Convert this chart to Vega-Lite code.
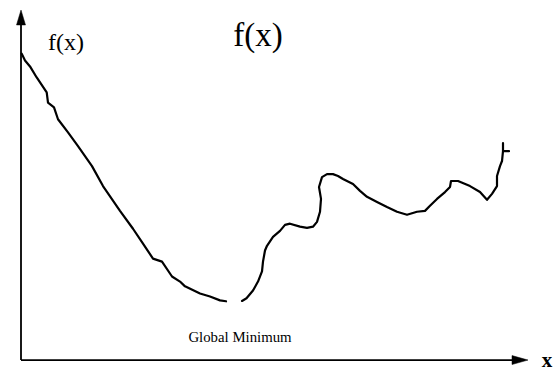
{
  "$schema": "https://vega.github.io/schema/vega-lite/v6.json",
  "width": 555,
  "height": 371,
  "padding": 0,
  "autosize": {"type": "fit", "contains": "padding"},
  "background": "white",
  "config": {"view": {"stroke": null}},
  "datasets": {
    "curve": [
      {"seg": "a", "ord": 1, "x": 0.14, "y": 102.7},
      {"seg": "a", "ord": 2, "x": 0.8, "y": 100.4},
      {"seg": "a", "ord": 3, "x": 1.8, "y": 98.4},
      {"seg": "a", "ord": 4, "x": 3.14, "y": 94.7},
      {"seg": "a", "ord": 5, "x": 5.14, "y": 89.7},
      {"seg": "a", "ord": 6, "x": 5.4, "y": 86.3},
      {"seg": "a", "ord": 7, "x": 6.6, "y": 84.7},
      {"seg": "a", "ord": 8, "x": 7.4, "y": 80.7},
      {"seg": "a", "ord": 9, "x": 9.4, "y": 76.3},
      {"seg": "a", "ord": 10, "x": 11.4, "y": 71.7},
      {"seg": "a", "ord": 11, "x": 14.2, "y": 65},
      {"seg": "a", "ord": 12, "x": 16.4, "y": 58.3},
      {"seg": "a", "ord": 13, "x": 19.8, "y": 50},
      {"seg": "a", "ord": 14, "x": 22.4, "y": 44},
      {"seg": "a", "ord": 15, "x": 24.4, "y": 39},
      {"seg": "a", "ord": 16, "x": 26.4, "y": 34},
      {"seg": "a", "ord": 17, "x": 28.2, "y": 33},
      {"seg": "a", "ord": 18, "x": 30.2, "y": 28},
      {"seg": "a", "ord": 19, "x": 31.8, "y": 26.3},
      {"seg": "a", "ord": 20, "x": 32.8, "y": 24.7},
      {"seg": "a", "ord": 21, "x": 35.8, "y": 22.3},
      {"seg": "a", "ord": 22, "x": 37.8, "y": 21.3},
      {"seg": "a", "ord": 23, "x": 39.8, "y": 20},
      {"seg": "a", "ord": 24, "x": 41, "y": 19.7},
      {"seg": "b", "ord": 1, "x": 44.2, "y": 19.8},
      {"seg": "b", "ord": 2, "x": 45.1, "y": 20.7},
      {"seg": "b", "ord": 3, "x": 46.4, "y": 23.3},
      {"seg": "b", "ord": 4, "x": 47.4, "y": 26.3},
      {"seg": "b", "ord": 5, "x": 48.2, "y": 29.7},
      {"seg": "b", "ord": 6, "x": 48.4, "y": 33},
      {"seg": "b", "ord": 7, "x": 48.8, "y": 36.7},
      {"seg": "b", "ord": 8, "x": 49.2, "y": 38.3},
      {"seg": "b", "ord": 9, "x": 50.4, "y": 41.3},
      {"seg": "b", "ord": 10, "x": 51.8, "y": 43.3},
      {"seg": "b", "ord": 11, "x": 52.8, "y": 45.3},
      {"seg": "b", "ord": 12, "x": 53.8, "y": 45.7},
      {"seg": "b", "ord": 13, "x": 55.8, "y": 44.7},
      {"seg": "b", "ord": 14, "x": 57.2, "y": 44.3},
      {"seg": "b", "ord": 15, "x": 58.4, "y": 44.7},
      {"seg": "b", "ord": 16, "x": 59.2, "y": 46.3},
      {"seg": "b", "ord": 17, "x": 59.8, "y": 49.7},
      {"seg": "b", "ord": 18, "x": 60, "y": 54},
      {"seg": "b", "ord": 19, "x": 59.6, "y": 58},
      {"seg": "b", "ord": 20, "x": 60.2, "y": 61.3},
      {"seg": "b", "ord": 21, "x": 61.2, "y": 62.3},
      {"seg": "b", "ord": 22, "x": 62.4, "y": 62.3},
      {"seg": "b", "ord": 23, "x": 63.4, "y": 61.7},
      {"seg": "b", "ord": 24, "x": 64.4, "y": 60.7},
      {"seg": "b", "ord": 25, "x": 66.4, "y": 59},
      {"seg": "b", "ord": 26, "x": 67.8, "y": 56.7},
      {"seg": "b", "ord": 27, "x": 69.2, "y": 54.7},
      {"seg": "b", "ord": 28, "x": 71.2, "y": 53},
      {"seg": "b", "ord": 29, "x": 73.2, "y": 51.3},
      {"seg": "b", "ord": 30, "x": 75.2, "y": 49.7},
      {"seg": "b", "ord": 31, "x": 77.2, "y": 48.7},
      {"seg": "b", "ord": 32, "x": 79.2, "y": 49.7},
      {"seg": "b", "ord": 33, "x": 80.8, "y": 50},
      {"seg": "b", "ord": 34, "x": 81.8, "y": 51.7},
      {"seg": "b", "ord": 35, "x": 83.2, "y": 54},
      {"seg": "b", "ord": 36, "x": 84.8, "y": 56.3},
      {"seg": "b", "ord": 37, "x": 85.8, "y": 58},
      {"seg": "b", "ord": 38, "x": 86, "y": 60},
      {"seg": "b", "ord": 39, "x": 87.4, "y": 60},
      {"seg": "b", "ord": 40, "x": 89.8, "y": 58.3},
      {"seg": "b", "ord": 41, "x": 91.8, "y": 56.3},
      {"seg": "b", "ord": 42, "x": 93.2, "y": 53.7},
      {"seg": "b", "ord": 43, "x": 94.2, "y": 55.7},
      {"seg": "b", "ord": 44, "x": 95.2, "y": 58.3},
      {"seg": "b", "ord": 45, "x": 95.2, "y": 61.7},
      {"seg": "b", "ord": 46, "x": 95.8, "y": 65},
      {"seg": "b", "ord": 47, "x": 96.2, "y": 66.7},
      {"seg": "b", "ord": 48, "x": 96.4, "y": 70},
      {"seg": "b", "ord": 49, "x": 96.4, "y": 72.7},
      {"seg": "b", "ord": 50, "x": 96.4, "y": 70},
      {"seg": "b", "ord": 51, "x": 97.6, "y": 70}
    ],
    "axes": [
      {"x": 0, "y": 0, "x2": 0, "y2": 113},
      {"x": 0, "y": 0, "x2": 98.8, "y2": 0}
    ],
    "yhead": [
      {"y": 112.3, "xl": -0.9, "xr": 0.9},
      {"y": 117.3, "xl": 0, "xr": 0}
    ],
    "xhead": [
      {"x": 98.2, "yl": -1.5, "yh": 1.5},
      {"x": 101.4, "yl": 0, "yh": 0}
    ],
    "title": [{"x": 47.4, "y": 108.7, "t": "f(x)"}],
    "ylab": [{"x": 9, "y": 106.3, "t": "f(x)"}],
    "xlab": [{"x": 105.2, "y": -0.3, "t": "x"}],
    "note": [{"x": 43.8, "y": 7.3, "t": "Global Minimum"}]
  },
  "layer": [
    {
      "data": {"name": "axes"},
      "mark": {"type": "rule", "color": "black", "strokeWidth": 1.8},
      "encoding": {
        "x": {"field": "x", "type": "quantitative", "scale": {"domain": [-4.2, 106.8], "nice": false, "zero": false}, "axis": null},
        "y": {"field": "y", "type": "quantitative", "scale": {"domain": [-3, 120.667], "nice": false, "zero": false}, "axis": null},
        "x2": {"field": "x2"},
        "y2": {"field": "y2"}
      }
    },
    {
      "data": {"name": "curve"},
      "mark": {"type": "line", "color": "black", "strokeWidth": 2.2, "strokeJoin": "round", "strokeCap": "round"},
      "encoding": {
        "x": {"field": "x", "type": "quantitative"},
        "y": {"field": "y", "type": "quantitative"},
        "detail": {"field": "seg"},
        "order": {"field": "ord", "type": "quantitative"}
      }
    },
    {
      "data": {"name": "yhead"},
      "mark": {"type": "area", "orient": "horizontal", "color": "black", "opacity": 1, "stroke": "black", "strokeWidth": 0.5},
      "encoding": {
        "y": {"field": "y", "type": "quantitative"},
        "x": {"field": "xl", "type": "quantitative"},
        "x2": {"field": "xr"}
      }
    },
    {
      "data": {"name": "xhead"},
      "mark": {"type": "area", "orient": "vertical", "color": "black", "opacity": 1, "stroke": "black", "strokeWidth": 0.5},
      "encoding": {
        "x": {"field": "x", "type": "quantitative"},
        "y": {"field": "yl", "type": "quantitative"},
        "y2": {"field": "yh"}
      }
    },
    {
      "data": {"name": "title"},
      "mark": {"type": "text", "font": "Liberation Serif", "fontSize": 33, "color": "black", "baseline": "middle", "align": "center"},
      "encoding": {
        "x": {"field": "x", "type": "quantitative"},
        "y": {"field": "y", "type": "quantitative"},
        "text": {"field": "t"}
      }
    },
    {
      "data": {"name": "ylab"},
      "mark": {"type": "text", "font": "Liberation Serif", "fontSize": 24, "color": "black", "baseline": "middle", "align": "center"},
      "encoding": {
        "x": {"field": "x", "type": "quantitative"},
        "y": {"field": "y", "type": "quantitative"},
        "text": {"field": "t"}
      }
    },
    {
      "data": {"name": "xlab"},
      "mark": {"type": "text", "font": "Liberation Serif", "fontSize": 21, "fontWeight": "bold", "color": "black", "baseline": "middle", "align": "center"},
      "encoding": {
        "x": {"field": "x", "type": "quantitative"},
        "y": {"field": "y", "type": "quantitative"},
        "text": {"field": "t"}
      }
    },
    {
      "data": {"name": "note"},
      "mark": {"type": "text", "font": "Liberation Serif", "fontSize": 14.8, "color": "black", "baseline": "middle", "align": "center"},
      "encoding": {
        "x": {"field": "x", "type": "quantitative"},
        "y": {"field": "y", "type": "quantitative"},
        "text": {"field": "t"}
      }
    }
  ]
}
